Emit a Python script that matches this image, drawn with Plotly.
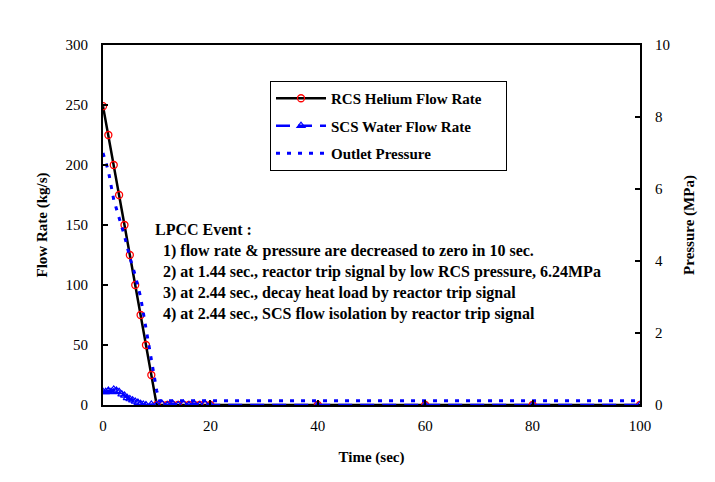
import plotly.graph_objects as go

# ---- data ----
t_rcs = [0, 1, 2, 3, 4, 5, 6, 7, 8, 9, 10, 11, 12, 13, 14, 15, 16, 17, 18, 19, 20, 40, 60, 80, 100]
rcs_flow = [249, 225, 200, 175, 150, 125, 100, 75, 50, 25, 0, 0, 0, 0, 0, 0, 0, 0, 0, 0, 0, 0, 0, 0, 0]

t_scs = [0, 0.5, 1, 1.5, 2, 2.5, 3, 3.5, 4, 4.5, 5, 5.5, 6, 6.5, 7, 7.5, 8, 9, 10,
         11, 12, 13, 14, 15, 16, 17, 18, 19, 20, 40, 60, 80, 100]
scs_flow = [11, 11, 12, 11, 13, 12, 11, 9, 8, 6, 5, 4, 3, 2, 1, 0.5, 0, 0.5, 0,
            1, 0, 1, 0, 1, 0, 1, 0, 1, 0, 0, 0, 0, 0]

t_p = [0, 1, 2, 3, 4, 5, 6, 7, 8, 9, 10, 10.5, 20, 40, 60, 80, 100]
pressure = [7.0, 6.5, 5.7, 5.2, 4.7, 4.1, 3.6, 3.0, 2.1, 1.25, 0.4, 0.12, 0.12, 0.12, 0.12, 0.12, 0.12]

x_ticks = [0, 20, 40, 60, 80, 100]
y_ticks = [0, 50, 100, 150, 200, 250, 300]
y2_ticks = [0, 2, 4, 6, 8, 10]

note_lines = [
    "LPCC Event :",
    "&nbsp;&nbsp;1) flow rate &amp; pressure are decreased to zero in 10 sec.",
    "&nbsp;&nbsp;2) at 1.44 sec., reactor trip signal by low RCS pressure, 6.24MPa",
    "&nbsp;&nbsp;3) at 2.44 sec., decay heat load by reactor trip signal",
    "&nbsp;&nbsp;4) at 2.44 sec., SCS flow isolation by reactor trip signal",
]

FONT = "Liberation Serif, Times New Roman, serif"

# page body has an 8px margin: plot area target is x 103..640, y 45..405 on screen
OFF = 8
PL, PR, PT, PB = 103, 640, 45, 405


def px_x(px):
    return (px - PL) / (PR - PL)


def px_y(py):
    return (PB - py) / (PB - PT)


fig = go.Figure()

fig.add_trace(go.Scatter(
    x=t_rcs, y=rcs_flow, name="<b>RCS Helium Flow Rate</b>&nbsp;&nbsp;&nbsp;&nbsp;&nbsp;", mode="lines+markers",
    line=dict(color="black", width=2.5),
    marker=dict(symbol="circle-open", color="red", size=7, line=dict(width=1.3)),
    legendgroup="a",
))
fig.add_trace(go.Scatter(
    x=t_scs, y=scs_flow, name="<b>SCS Water Flow Rate</b>", mode="lines+markers",
    line=dict(color="blue", width=2.5, dash="14px,8px"),
    marker=dict(symbol="triangle-up-open", color="blue", size=7, line=dict(width=1.2)),
    legendgroup="b",
))
fig.add_trace(go.Scatter(
    x=t_p, y=pressure, name="<b>Outlet Pressure</b>", mode="lines",
    line=dict(color="blue", width=3, dash="4px,7px"),
    yaxis="y2", legendgroup="c",
))

for i, txt in enumerate(note_lines):
    fig.add_annotation(
        x=px_x(153), y=px_y(230 + 21 * i),
        xref="paper", yref="paper", xanchor="left", yanchor="middle",
        text="<b>" + txt + "</b>", showarrow=False,
        font=dict(family=FONT, size=16, color="black"), align="left",
    )

axis_common = dict(
    showgrid=False, zeroline=False, showline=True, linecolor="black", linewidth=2,
    ticks="inside", ticklen=5, tickwidth=1.5, tickcolor="black",
    tickfont=dict(family=FONT, size=15, color="black"),
)

fig.update_layout(
    width=715, height=482,
    margin=dict(l=PL - OFF, r=715 - (PR - OFF), t=PT - OFF, b=482 - (PB - OFF)),
    paper_bgcolor="white", plot_bgcolor="white",
    font=dict(family=FONT, size=15, color="black"),
    xaxis=dict(range=[0, 100], tickvals=x_ticks, mirror=True,
               title=dict(text="<b>Time (sec)</b>", standoff=18,
                          font=dict(family=FONT, size=15)),
               ticklabelstandoff=6, tickprefix="<b>", ticksuffix="</b>",
               **axis_common),
    yaxis=dict(range=[0, 300], tickvals=y_ticks,
               title=dict(text="<b>Flow Rate (kg/s)</b>", standoff=14,
                          font=dict(family=FONT, size=15)),
               ticklabelstandoff=10, tickprefix="<b>", ticksuffix="</b>",
               **axis_common),
    yaxis2=dict(range=[0, 10], tickvals=y2_ticks, overlaying="y", side="right",
                title=dict(text="<b>Pressure (MPa)</b>", standoff=14,
                           font=dict(family=FONT, size=15)),
                ticklabelstandoff=10, tickprefix="<b>", ticksuffix="</b>",
                **axis_common),
    showlegend=True,
    legend=dict(
        x=px_x(270), y=px_y(81), xanchor="left", yanchor="top",
        bordercolor="black", borderwidth=1, bgcolor="white",
        font=dict(family=FONT, size=15, color="black"),
        traceorder="grouped", tracegroupgap=5, itemwidth=50,
    ),
)

fig.write_html("out.html")
